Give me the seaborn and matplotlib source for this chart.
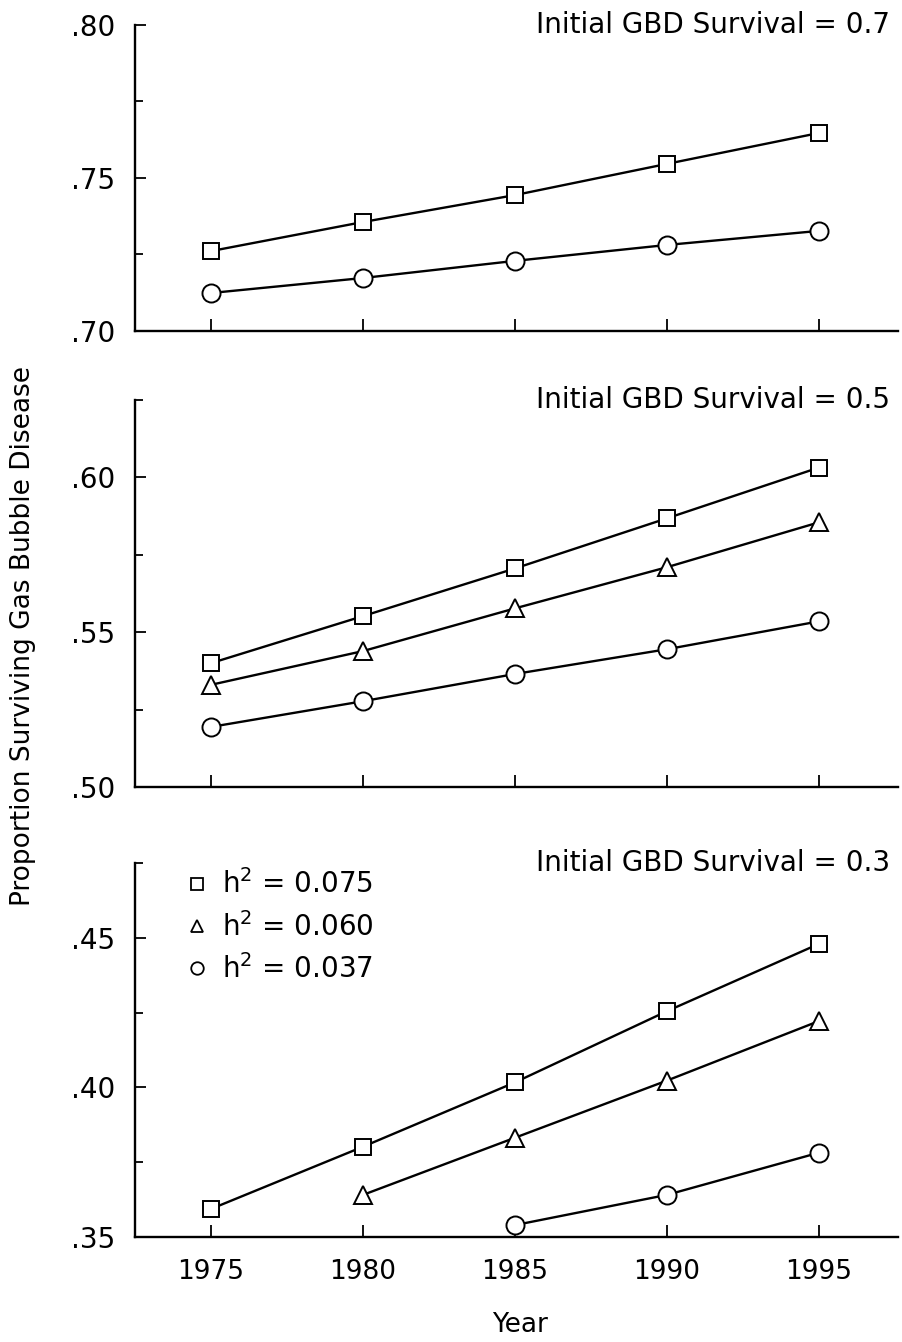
import numpy as np
import pandas as pd
import matplotlib
matplotlib.use("Agg")
import matplotlib.pyplot as plt
import seaborn as sns
from matplotlib.lines import Line2D
from matplotlib.ticker import MultipleLocator, FixedLocator, FuncFormatter

sns.set_theme(style="ticks")
plt.rcParams['font.family'] = ['DejaVu Sans']
plt.rcParams['text.color'] = 'black'
plt.rcParams['xtick.labelcolor'] = 'black'
plt.rcParams['ytick.labelcolor'] = 'black'

years = [1975, 1980, 1985, 1990, 1995]

# Panel 1: initial GBD survival 0.7
p07_sq = [0.7261, 0.7356, 0.7444, 0.7546, 0.7647]
p07_ci = [0.7124, 0.7173, 0.7229, 0.7281, 0.7327]

# Panel 2: initial GBD survival 0.5
p05_sq = [0.5400, 0.5552, 0.5706, 0.5868, 0.6032]
p05_tr = [0.5330, 0.5439, 0.5577, 0.5710, 0.5855]
p05_ci = [0.5194, 0.5277, 0.5365, 0.5445, 0.5535]

# Panel 3: initial GBD survival 0.3
p03_years_sq = [1975, 1980, 1985, 1990, 1995]
p03_sq = [0.3594, 0.3802, 0.4017, 0.4255, 0.4480]
p03_years_tr = [1980, 1985, 1990, 1995]
p03_tr = [0.3641, 0.3832, 0.4023, 0.4222]
p03_years_ci = [1985, 1990, 1995]
p03_ci = [0.3540, 0.3641, 0.3782]

series_labels = ["0.075", "0.060", "0.037"]
panel_titles = ["Initial GBD Survival = 0.7", "Initial GBD Survival = 0.5", "Initial GBD Survival = 0.3"]
ylims = [(0.70, 0.80), (0.50, 0.625), (0.35, 0.475)]
major_ticks = [[0.70, 0.75, 0.80], [0.50, 0.55, 0.60], [0.35, 0.40, 0.45]]

fig = plt.figure(figsize=(9.02, 13.42), dpi=100)
left, right = 0.1497, 0.9956
boxes = [(0.7534, 0.9814), (0.4136, 0.7019), (0.0782, 0.3569)]
axes = [fig.add_axes([left, b, right - left, t - b]) for b, t in boxes]

markers = {"0.075": "s", "0.060": "^", "0.037": "o"}
msizes = {"s": 12, "^": 13, "o": 13}

def draw(ax, xs, ys, key):
    df = pd.DataFrame({"Year": xs, "val": ys})
    m = markers[key]
    sns.lineplot(data=df, x="Year", y="val", ax=ax, color="black", lw=1.7,
                 marker=m, markersize=msizes[m], markerfacecolor="white",
                 markeredgecolor="black", markeredgewidth=1.4, zorder=3)

draw(axes[0], years, p07_sq, "0.075")
draw(axes[0], years, p07_ci, "0.037")
draw(axes[1], years, p05_sq, "0.075")
draw(axes[1], years, p05_tr, "0.060")
draw(axes[1], years, p05_ci, "0.037")
draw(axes[2], p03_years_sq, p03_sq, "0.075")
draw(axes[2], p03_years_tr, p03_tr, "0.060")
draw(axes[2], p03_years_ci, p03_ci, "0.037")

for i, ax in enumerate(axes):
    ax.set_xlim(1972.5, 1997.6)
    ax.set_ylim(*ylims[i])
    ax.set_xlabel("")
    ax.set_ylabel("")
    for s in ["top", "right"]:
        ax.spines[s].set_visible(False)
    for s in ["left", "bottom"]:
        ax.spines[s].set_linewidth(1.7)
        ax.spines[s].set_color("black")
    ax.yaxis.set_major_locator(FixedLocator(major_ticks[i]))
    ax.yaxis.set_minor_locator(MultipleLocator(0.025))
    ax.yaxis.set_major_formatter(FuncFormatter(lambda v, p: ("%.2f" % v)[1:]))
    ax.xaxis.set_major_locator(FixedLocator(years))
    ax.tick_params(axis="both", which="both", direction="in", color="black", width=1.3)
    ax.tick_params(axis="y", which="major", length=8, labelsize=20, pad=14)
    ax.tick_params(axis="y", which="minor", length=6)
    ax.tick_params(axis="x", which="major", length=9, labelsize=19, pad=16)
    ax.text(0.99, 1.0, panel_titles[i], transform=ax.transAxes, ha="right", va="center",
            fontsize=20, color="black")
    if i < 2:
        ax.set_xticklabels([])

# legend in bottom panel
handles = [Line2D([], [], ls="none", marker=markers[k], markersize=9, markerfacecolor="white",
                  markeredgecolor="black", markeredgewidth=1.3, color="black") for k in series_labels]
labels = ["$\\mathregular{h^2}$ = " + k for k in series_labels]
axes[2].legend(handles, labels, loc="upper left", bbox_to_anchor=(0.03, 1.05), frameon=False,
               fontsize=20, handletextpad=0.4, labelspacing=0.45, handlelength=1.0,
               labelcolor="black")

fig.text(0.025, 0.526, "Proportion Surviving Gas Bubble Disease", rotation=90, ha="center",
         va="center", fontsize=19, color="black")
fig.text(0.577, 0.013, "Year", ha="center", va="center", fontsize=19, color="black")

fig.savefig("out.png", dpi=100, facecolor="white")
